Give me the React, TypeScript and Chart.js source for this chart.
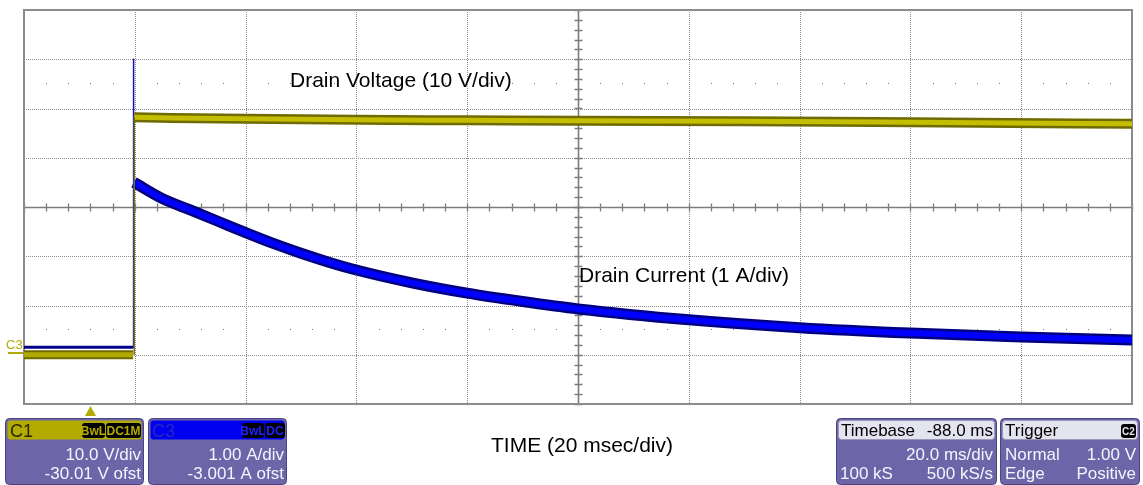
import React, { useEffect, useRef } from 'react';
import { Chart, registerables } from 'chart.js';

Chart.register(...registerables);

// ---- Data (time in ms from left edge of screen, 20 ms/div) ----
const preStepTimeMs = [0, 19.7];
const preStepCurrentA = [0.15, 0.15];
const preStepVoltageV = [0.0, 0.0];

const currentSpikeTimeMs = [19.7, 19.72, 19.78, 19.85];
const currentSpikeA = [0.15, 6.0, 2.7, 3.5];

const currentTimeMs = [19.85, 25, 30, 35, 40, 45, 50, 55, 60, 70, 80, 90, 100, 120, 140, 160, 180, 200];
const currentA = [3.5, 3.17, 2.94, 2.71, 2.48, 2.26, 2.06, 1.88, 1.72, 1.46, 1.25, 1.08, 0.93, 0.71, 0.55, 0.44, 0.36, 0.3];

const voltageStepTimeMs = [19.9, 19.9];
const voltageStepV = [0.0, 48.2];

const voltageTimeMs = [19.9, 40, 60, 80, 100, 130, 160, 200];
const voltageV = [48.2, 47.9, 47.7, 47.6, 47.5, 47.4, 47.2, 46.9];

// grid divisions
const timeDivsMs = [0, 20, 40, 60, 80, 100, 120, 140, 160, 180, 200];
const currentDivsA = [-1, 0, 1, 2, 3, 4, 5, 6, 7];

// labels
const voltageLabel = 'Drain Voltage (10 V/div)';
const currentLabel = 'Drain Current (1 A/div)';
const timeLabel = 'TIME (20 msec/div)';

const FONT = '"Liberation Sans", Arial, sans-serif';
const GRID = '#8c8c8c';
const C1_COLOR = '#b3ab00';
const C3_COLOR = '#0000f0';

const pts = (xs: number[], ys: number[]) => xs.map((x, i) => ({ x, y: ys[i] }));

function rr(ctx: CanvasRenderingContext2D, x: number, y: number, w: number, h: number, r: number) {
  ctx.beginPath();
  ctx.moveTo(x + r, y);
  ctx.lineTo(x + w - r, y);
  ctx.arcTo(x + w, y, x + w, y + r, r);
  ctx.lineTo(x + w, y + h - r);
  ctx.arcTo(x + w, y + h, x + w - r, y + h, r);
  ctx.lineTo(x + r, y + h);
  ctx.arcTo(x, y + h, x, y + h - r, r);
  ctx.lineTo(x, y + r);
  ctx.arcTo(x, y, x + r, y, r);
  ctx.closePath();
}

function txt(ctx: CanvasRenderingContext2D, s: string, x: number, y: number, align: CanvasTextAlign, color: string, size = 17, weight = 'normal') {
  ctx.font = `${weight} ${size}px ${FONT}`;
  ctx.textAlign = align;
  ctx.textBaseline = 'alphabetic';
  ctx.fillStyle = color;
  ctx.fillText(s, x, y);
}

function badge(ctx: CanvasRenderingContext2D, s: string, x: number, w: number, color: string) {
  rr(ctx, x, 423, w, 15, 3);
  ctx.fillStyle = '#000';
  ctx.fill();
  txt(ctx, s, x + w / 2, 435, 'center', color, 12, 'bold');
}

function infoBox(ctx: CanvasRenderingContext2D, x: number, w: number, header: string) {
  rr(ctx, x + 0.5, 418.5, w, 66, 4);
  ctx.fillStyle = '#6d65a7';
  ctx.fill();
  ctx.strokeStyle = '#4a4486';
  ctx.lineWidth = 1;
  ctx.stroke();
  rr(ctx, x + 2.5, 420.5, w - 4, 19, 3);
  ctx.fillStyle = header;
  ctx.fill();
  if (header.startsWith('#e')) {
    ctx.strokeStyle = '#9a98b8';
    ctx.stroke();
  }
}

const gridPlugin = {
  id: 'scopeGrid',
  beforeDatasetsDraw(chart: any) {
    const { ctx, chartArea: a, scales } = chart;
    const xs = scales.x;
    const yi = scales.yI;
    ctx.save();
    // dotted division lines
    ctx.strokeStyle = GRID;
    ctx.lineWidth = 1;
    ctx.setLineDash([1, 1]);
    timeDivsMs.forEach((t) => {
      const px = Math.round(xs.getPixelForValue(t)) + 0.5;
      ctx.beginPath();
      ctx.moveTo(px, a.top);
      ctx.lineTo(px, a.bottom);
      ctx.stroke();
    });
    currentDivsA.forEach((v) => {
      const py = Math.round(yi.getPixelForValue(v)) + 0.5;
      ctx.beginPath();
      ctx.moveTo(a.left, py);
      ctx.lineTo(a.right, py);
      ctx.stroke();
    });
    ctx.setLineDash([]);
    // dot rows
    ctx.fillStyle = '#777';
    [5.5, 0.5].forEach((v) => {
      const py = Math.round(yi.getPixelForValue(v)) - 1;
      for (let t = 0; t <= 200; t += 4) {
        if (t % 20 === 0) continue;
        const px = Math.round(xs.getPixelForValue(t));
        ctx.fillRect(px, py, 1, 1);
      }
    });
    // centre axes with minor ticks
    const cx = Math.round(xs.getPixelForValue(100)) + 0.5;
    const cy = Math.round(yi.getPixelForValue(3)) + 0.5;
    ctx.strokeStyle = '#7c7c7c';
    ctx.lineWidth = 1.6;
    ctx.beginPath();
    ctx.moveTo(a.left, cy);
    ctx.lineTo(a.right, cy);
    ctx.moveTo(cx, a.top);
    ctx.lineTo(cx, a.bottom);
    ctx.stroke();
    ctx.lineWidth = 1.3;
    ctx.beginPath();
    for (let t = 0; t <= 200; t += 4) {
      const px = Math.round(xs.getPixelForValue(t)) + 0.5;
      ctx.moveTo(px, cy - 4);
      ctx.lineTo(px, cy + 4);
    }
    for (let v = -1; v <= 7.001; v += 0.2) {
      const py = Math.round(yi.getPixelForValue(v)) + 0.5;
      ctx.moveTo(cx - 4, py);
      ctx.lineTo(cx + 4, py);
    }
    ctx.stroke();
    // frame
    ctx.strokeStyle = '#8c8c8c';
    ctx.lineWidth = 2;
    ctx.strokeRect(a.left, a.top, a.right - a.left, a.bottom - a.top);
    ctx.restore();
  },
  afterDraw(chart: any) {
    const { ctx, scales } = chart;
    const yi = scales.yI;
    ctx.save();
    // trace labels
    txt(ctx, voltageLabel, 290, 87, 'left', '#000', 21);
    txt(ctx, currentLabel, 579, 282, 'left', '#000', 21);
    txt(ctx, timeLabel, 582, 452, 'center', '#000', 21);

    // C3 ground marker on left
    const gy = Math.round(yi.getPixelForValue(0.15));
    txt(ctx, 'C3', 6, gy + 2, 'left', C1_COLOR, 13);
    ctx.fillStyle = C1_COLOR;
    ctx.fillRect(8, gy + 5, 15, 2);

    // trigger marker
    const tx = 90.5;
    ctx.beginPath();
    ctx.moveTo(tx, 406);
    ctx.lineTo(tx + 5.5, 416);
    ctx.lineTo(tx - 5.5, 416);
    ctx.closePath();
    ctx.fillStyle = C1_COLOR;
    ctx.fill();

    // C1 box
    infoBox(ctx, 5, 138, C1_COLOR);
    txt(ctx, 'C1', 10, 437, 'left', '#2a2800', 18);
    badge(ctx, 'BwL', 82, 23, C1_COLOR);
    badge(ctx, 'DC1M', 106, 35, C1_COLOR);
    txt(ctx, '10.0 V/div', 141, 460, 'right', '#f4f4ff', 17);
    txt(ctx, '-30.01 V ofst', 141, 479, 'right', '#f4f4ff', 17);

    // C3 box
    infoBox(ctx, 148, 138, C3_COLOR);
    txt(ctx, 'C3', 152, 437, 'left', '#2828b8', 18);
    badge(ctx, 'BwL', 242, 22, '#2020ff');
    badge(ctx, 'DC', 265, 20, '#2020ff');
    txt(ctx, '1.00 A/div', 284, 460, 'right', '#f4f4ff', 17);
    txt(ctx, '-3.001 A ofst', 284, 479, 'right', '#f4f4ff', 17);

    // Timebase box
    infoBox(ctx, 836, 160, '#e4e3f0');
    txt(ctx, 'Timebase', 841, 436, 'left', '#000', 17);
    txt(ctx, '-88.0 ms', 993, 436, 'right', '#000', 17);
    txt(ctx, '20.0 ms/div', 993, 460, 'right', '#f4f4ff', 17);
    txt(ctx, '100 kS', 840, 479, 'left', '#f4f4ff', 17);
    txt(ctx, '500 kS/s', 993, 479, 'right', '#f4f4ff', 17);

    // Trigger box
    infoBox(ctx, 1000, 139, '#e4e3f0');
    txt(ctx, 'Trigger', 1005, 436, 'left', '#000', 17);
    rr(ctx, 1121, 424, 15, 14, 3);
    ctx.fillStyle = '#000';
    ctx.fill();
    txt(ctx, 'C2', 1128.5, 435, 'center', '#e4e3f0', 10, 'bold');
    txt(ctx, 'Normal', 1005, 460, 'left', '#f4f4ff', 17);
    txt(ctx, '1.00 V', 1136, 460, 'right', '#f4f4ff', 17);
    txt(ctx, 'Edge', 1005, 479, 'left', '#f4f4ff', 17);
    txt(ctx, 'Positive', 1136, 479, 'right', '#f4f4ff', 17);
    ctx.restore();
  },
};

export default function App() {
  const ref = useRef<HTMLCanvasElement | null>(null);
  useEffect(() => {
    if (!ref.current) return;
    const common = { pointRadius: 0, fill: false, borderCapStyle: 'butt' as const, borderJoinStyle: 'round' as const };
    const chart = new Chart(ref.current, {
      type: 'line',
      data: {
        datasets: [
          // voltage (drawn on top)
          { ...common, data: pts(voltageStepTimeMs, voltageStepV), yAxisID: 'yV', borderColor: '#77730a', borderWidth: 1.5, order: 1 },
          { ...common, data: pts(voltageTimeMs, voltageV), yAxisID: 'yV', borderColor: '#c4be00', borderWidth: 5, order: 2, cubicInterpolationMode: 'monotone' },
          { ...common, data: pts(voltageTimeMs, voltageV), yAxisID: 'yV', borderColor: '#6f6b00', borderWidth: 10, order: 3, cubicInterpolationMode: 'monotone' },
          { ...common, data: pts(preStepTimeMs, preStepVoltageV), yAxisID: 'yV', borderColor: '#b0aa00', borderWidth: 5, order: 2 },
          { ...common, data: pts(preStepTimeMs, preStepVoltageV), yAxisID: 'yV', borderColor: '#6f6b00', borderWidth: 9, order: 3 },
          // current
          { ...common, data: pts(currentSpikeTimeMs, currentSpikeA), yAxisID: 'yI', borderColor: '#1010c0', borderWidth: 1.5, order: 4 },
          { ...common, data: pts(currentTimeMs, currentA), yAxisID: 'yI', borderColor: '#0000ff', borderWidth: 6, order: 5, cubicInterpolationMode: 'monotone' },
          { ...common, data: pts(currentTimeMs, currentA), yAxisID: 'yI', borderColor: '#000080', borderWidth: 11, order: 6, cubicInterpolationMode: 'monotone' },
          { ...common, data: pts(preStepTimeMs, preStepCurrentA), yAxisID: 'yI', borderColor: '#00008a', borderWidth: 3, order: 6 },
        ],
      },
      options: {
        animation: false,
        responsive: false,
        devicePixelRatio: 1,
        layout: { padding: { left: 24, right: 11, top: 10, bottom: 81 } },
        plugins: { legend: { display: false }, tooltip: { enabled: false } },
        events: [],
        scales: {
          x: { type: 'linear', min: 0, max: 200, display: false },
          yV: { type: 'linear', min: -10, max: 70, display: false },
          yI: { type: 'linear', min: -1, max: 7, display: false },
        },
      },
      plugins: [gridPlugin],
    });
    return () => chart.destroy();
  }, []);
  return (
    <div style={{ position: 'absolute', left: 0, top: 0, width: 1143, height: 485, background: '#fff' }}>
      <canvas ref={ref} width={1143} height={485} style={{ display: 'block' }} />
    </div>
  );
}
